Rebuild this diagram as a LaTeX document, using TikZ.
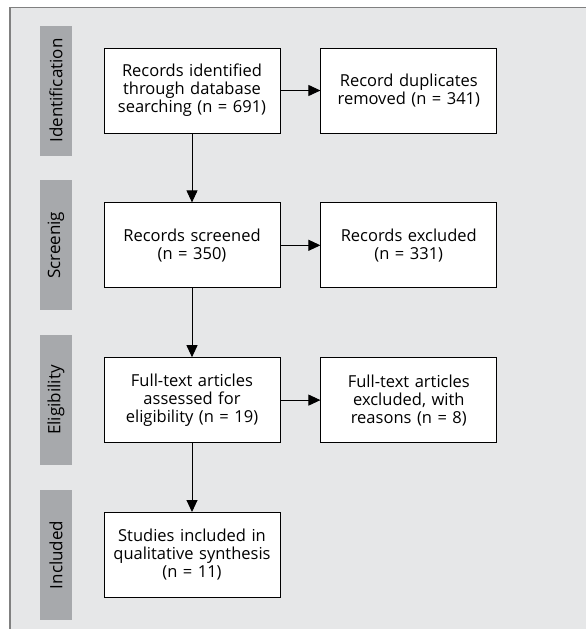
\documentclass[tikz,border=0pt]{standalone}
\usepackage{fontspec}
\setmainfont{Open Sans}
\usetikzlibrary{positioning, arrows.meta}
\definecolor{colorFondo}{RGB}{230,231,232}
\definecolor{colorFase}{RGB}{167,169,172}
\definecolor{colorMarco}{RGB}{128,128,128}

\begin{document}
\begin{tikzpicture}[
	x=1pt, y=-1pt,
	font=\fontsize{16.5}{18}\selectfont,
	caja/.style={rectangle, draw=black, line width=0.8pt, fill=white,
	             align=center, text width=172pt, minimum width=176pt, minimum height=85pt, inner sep=2pt},
	fase/.style={rectangle, fill=colorFase, rotate=90, minimum width=130pt, minimum height=32pt, inner sep=0pt,
	             font=\fontsize{17}{18}\selectfont},
	flecha/.style={-{Triangle[length=12pt, width=11pt]}, draw=black, line width=0.9pt},
	]

\useasboundingbox (0,0) rectangle (586,629);
\fill[colorFondo] (10,7.5) rectangle (586,629);
\draw[colorMarco, line width=1.5pt] (10,629) -- (10,7.5) -- (586,7.5);

% Cajas principales
\node[caja] (id1) at (192,90.5) {Records identified\\through database\\searching (n = 691)};
\node[caja, right=40pt of id1] (id2) {Record duplicates\\removed (n = 341)};
\node[caja, below=69pt of id1] (scr1) {Records screened\\(n = 350)};
\node[caja, right=40pt of scr1] (scr2) {Records excluded\\(n = 331)};
\node[caja, below=69pt of scr1] (eli1) {Full-text articles\\assessed for\\eligibility (n = 19)};
\node[caja, right=40pt of eli1] (eli2) {Full-text articles\\excluded, with\\reasons (n = 8)};
\node[caja, below=69pt of eli1] (inc1) {Studies included in\\qualitative synthesis\\(n = 11)};

% Etiquetas de fase
\node[fase] (fIdent) at ([xshift=-136pt]id1.center) {Identification};
\node[fase] (fScr) at ([xshift=-136pt]scr1.center) {Screenig};
\node[fase] (fEli) at ([xshift=-136pt]eli1.center) {Eligibility};
\node[fase] (fInc) at ([xshift=-136pt]inc1.center) {Included};

% Flechas
\draw[flecha] (id1) -- (id2);
\draw[flecha] (scr1) -- (scr2);
\draw[flecha] (eli1) -- (eli2);
\draw[flecha] (id1) -- (scr1);
\draw[flecha] (scr1) -- (eli1);
\draw[flecha] (eli1) -- (inc1);

\end{tikzpicture}
\end{document}
